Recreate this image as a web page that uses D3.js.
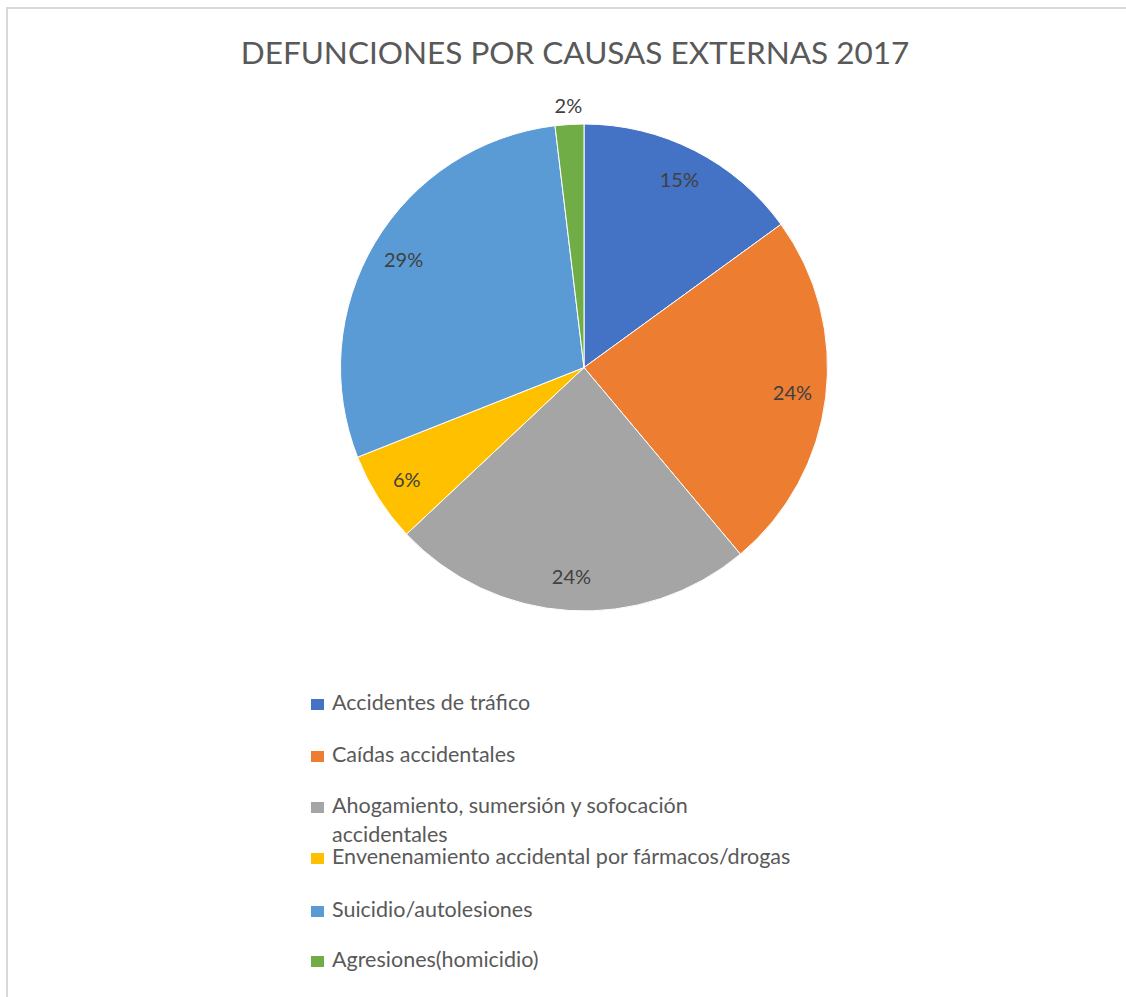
<!DOCTYPE html>
<html lang="es">
    <head>
        <meta charset="utf-8">
        <title>Defunciones por causas externas 2017</title>
        <script type="text/javascript" src="https://d3js.org/d3.v7.min.js"></script>
        <style type="text/css">
            body { margin: 0; background: #fff; }
            svg { display: block; font-family: "Lato", "Open Sans", sans-serif; }
        </style>
    </head>
    <body>
        <script type="text/javascript">

        const width = 1126;
        const height = 997;

        //Data (shares, %)
        const causes = ["Accidentes de tráfico", "Caídas accidentales",
                        "Ahogamiento, sumersión y sofocación accidentales",
                        "Envenenamiento accidental por fármacos/drogas",
                        "Suicidio/autolesiones", "Agresiones(homicidio)"];
        const shares = [15.0, 23.9, 24.1, 6.0, 29.1, 1.9];
        const colours = ["#4472C4", "#ED7D31", "#A5A5A5", "#FFC000", "#5B9BD5", "#70AD47"];
        // legend text split where the original wraps
        const legendLines = [["Accidentes de tráfico"], ["Caídas accidentales"],
                             ["Ahogamiento, sumersión y sofocación", "accidentales"],
                             ["Envenenamiento accidental por fármacos/drogas"],
                             ["Suicidio/autolesiones"], ["Agresiones(homicidio)"]];

        const dataset = causes.map((c, i) => ({cause: c, value: shares[i]}));

        const cx = 584, cy = 367.5, radius = 243.5;

        const svg = d3.select("body")
                    .append("svg")
                    .attr("width", width)
                    .attr("height", height);

        //Frame
        svg.append("path")
            .attr("d", "M7,997 V8 H1126")
            .attr("fill", "none")
            .attr("stroke", "#d9d9d9")
            .attr("stroke-width", 2);

        //Title
        svg.append("text")
            .attr("x", 575)
            .attr("y", 64)
            .attr("text-anchor", "middle")
            .attr("font-size", 31.5)
            .attr("fill", "#595959")
            .text("DEFUNCIONES POR CAUSAS EXTERNAS 2017");

        //Pie
        const pie = d3.pie().sort(null).value(d => d.value);
        const arc = d3.arc().innerRadius(0).outerRadius(radius);
        const labelArc = d3.arc().innerRadius(210).outerRadius(210);
        const outerArc = d3.arc().innerRadius(262).outerRadius(262);
        const arcs = pie(dataset);

        const g = svg.append("g")
                    .attr("transform", "translate(" + cx + "," + cy + ")");

        g.selectAll("path")
            .data(arcs)
            .enter()
            .append("path")
            .attr("d", arc)
            .attr("fill", (d, i) => colours[i])
            .attr("stroke", "#fff")
            .attr("stroke-width", 1);

        g.selectAll("text.lbl")
            .data(arcs)
            .enter()
            .append("text")
            .attr("class", "lbl")
            .attr("transform", d => "translate(" + (d.data.value < 3 ? outerArc : labelArc).centroid(d) + ")")
            .attr("text-anchor", "middle")
            .attr("dy", "0.35em")
            .attr("font-size", 20)
            .attr("fill", "#404040")
            .text(d => Math.round(d.data.value) + "%");

        //Legend
        const legendY = [710, 762, 813, 864, 917, 967];
        const legend = svg.selectAll("g.legend")
                    .data(dataset)
                    .enter()
                    .append("g")
                    .attr("class", "legend")
                    .attr("transform", (d, i) => "translate(311," + legendY[i] + ")");

        legend.append("rect")
            .attr("x", 0)
            .attr("y", -11)
            .attr("width", 13)
            .attr("height", 11)
            .attr("fill", (d, i) => colours[i]);

        legend.append("text")
            .attr("x", 21)
            .attr("font-size", 21.5)
            .attr("fill", "#595959")
            .selectAll("tspan")
            .data((d, i) => legendLines[i])
            .enter()
            .append("tspan")
            .attr("x", 21)
            .attr("dy", (d, j) => j === 0 ? 0 : 29)
            .text(d => d);

        </script>
    </body>
</html>
